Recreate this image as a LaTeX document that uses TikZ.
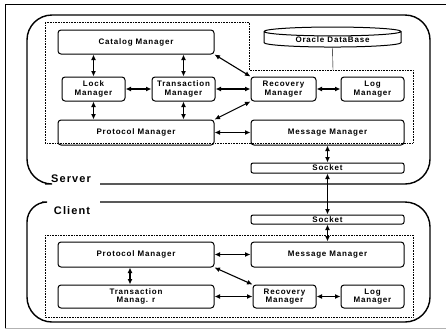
\documentclass[tikz,border=0pt]{standalone}
\usepackage{fontspec}
\newfontfamily\mgrfont[LetterSpace=10]{Liberation Sans}
\usetikzlibrary{arrows.meta,shapes.geometric}

\tikzset{
  mgr/.style={draw, line width=1pt, rounded corners=3pt, align=center, inner sep=0pt,
    font=\mgrfont\bfseries\fontsize{8}{8.5}\selectfont},
  link/.style={{Latex[length=5.5pt,width=5pt]}-{Latex[length=5.5pt,width=5pt]}, line width=1.1pt},
  region/.style={line width=1.4pt},
  zone/.style={densely dotted, line width=0.6pt},
  tag/.style={font=\mgrfont\bfseries\fontsize{11}{12}\selectfont, inner sep=0pt}
}

\begin{document}
\begin{tikzpicture}[x=1pt, y=-1pt]
    \useasboundingbox (0,0) rectangle (446,330);

    % Outer frame
    \draw[line width=1pt] (446,4) -- (5,4) -- (5,328);
    \draw[gray!60, line width=0.6pt] (5,328) -- (446,328);

    % Server side
    \draw[region, rounded corners=25pt] (100,184) -- (430,184) -- (430,15) -- (27,15)
        -- (27,184) [rounded corners=18pt] -- (45,184);
    \node[tag] (srv) at (71,179) {Server};
    \draw[zone] (45,22) -- (249,22) -- (249,70) -- (413,70) -- (413,143) -- (45,143) -- cycle;
    \coordinate (dbtap) at (333,70);

    \node[mgr, minimum width=156pt, minimum height=24pt] (cat) at (136,42) {Catalog Manager};
    \node[mgr, minimum width=63pt, minimum height=24pt] (lock) at (93.5,89) {Lock\\Manager};
    \node[mgr, minimum width=63pt, minimum height=24pt] (trans) at (183.5,89) {Transaction\\Manager};
    \node[mgr, minimum width=156pt, minimum height=25pt] (prot) at (136,132.5) {Protocol Manager};
    \node[mgr, sharp corners, cylinder, shape border rotate=90, aspect=0.12,
          minimum width=137pt, minimum height=20pt] (db) at (332.5,39.5) {Oracle DataBase};
    \node[mgr, minimum width=65pt, minimum height=24pt] (rec) at (283.5,89) {Recovery\\Manager};
    \node[mgr, minimum width=63pt, minimum height=24pt] (log) at (372.5,89) {Log\\Manager};
    \node[mgr, minimum width=153pt, minimum height=25pt] (msg) at (327.5,132.5) {Message Manager};
    \node[mgr, minimum width=153pt, minimum height=10pt, rounded corners=2pt] (sockS) at (327.5,168) {Socket};

    \draw (db.south) -- (dbtap);
    \draw[link] (lock.north) -- (lock.north |- cat.south);
    \draw[link] (trans.north) -- (trans.north |- cat.south);
    \draw[link] (lock.south) -- (lock.south |- prot.north);
    \draw[link] (trans.south) -- (trans.south |- prot.north);
    \draw[link] (lock) -- (trans);
    \draw[link] (trans) -- (rec);
    \draw[link] (cat.south east) -- (rec.north west);
    \draw[link] (prot.north east) -- (rec.south west);
    \draw[link] (prot) -- (msg);
    \draw[link] (rec) -- (log);
    \draw[link] (msg.south) -- (sockS.north);

    % Client side
    \draw[region, rounded corners=25pt] (100,202) -- (430,202) -- (430,322) -- (27,322)
        [rounded corners=20pt] -- (27,202) [rounded corners=15pt] -- (42,202);
    \node[tag] (cli) at (72,211) {Client};
    \draw[zone] (45,235) rectangle (413,317);

    \node[mgr, minimum width=153pt, minimum height=9pt, rounded corners=2pt] (sockC) at (327.5,219.5) {Socket};
    \node[mgr, minimum width=153pt, minimum height=25pt] (msgC) at (327.5,254.5) {Message Manager};
    \node[mgr, minimum width=63pt, minimum height=23pt] (recC) at (284.5,296.5) {Recovery\\Manager};
    \node[mgr, minimum width=63pt, minimum height=23pt] (logC) at (372.5,296.5) {Log\\Manager};
    \node[mgr, minimum width=156pt, minimum height=25pt] (protC) at (136,254.5) {Protocol Manager};
    \node[mgr, minimum width=156pt, minimum height=23pt] (transC) at (136,296.5) {Transaction\\Manag. r};

    \draw[link] (sockS.south) -- (sockC.north);
    \draw[link] (sockC.south) -- (msgC.north);
    \draw[link] (protC) -- (msgC);
    \draw[link] (protC.south east) -- (recC.north west);
    \draw[link] (transC) -- (recC);
    \draw[link] ([xshift=-6pt]protC.south) -- ([xshift=-6pt]transC.north);
    \draw[link] (recC) -- (logC);
\end{tikzpicture}
\end{document}
